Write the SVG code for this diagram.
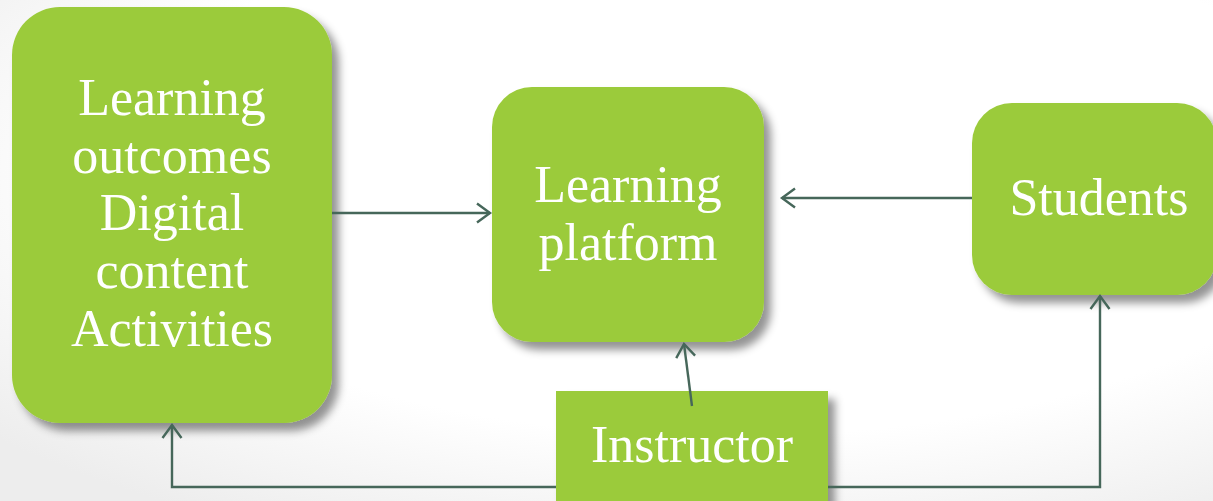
<svg xmlns="http://www.w3.org/2000/svg" width="1213" height="501" viewBox="0 0 1213 501">
  <style>
    .box { fill: #9bcb3a; filter: url(#shadow); }
    .label { fill: #ffffff; font-family: "Liberation Serif", "DejaVu Serif", serif; font-size: 52px; text-anchor: middle; }
    .link { fill: none; stroke: #46675a; stroke-width: 2.4; marker-end: url(#arrow); }
  </style>
  <defs>
    <radialGradient id="bg" cx="0.6" cy="0.35" r="0.8">
      <stop offset="0.65" stop-color="#ffffff"/>
      <stop offset="1" stop-color="#ededed"/>
    </radialGradient>
    <filter id="shadow" x="-10%" y="-10%" width="125%" height="125%">
      <feDropShadow dx="7" dy="8" stdDeviation="4.5" flood-color="#000000" flood-opacity="0.42"/>
    </filter>
    <marker id="arrow" viewBox="-15 -12 18 24" markerWidth="18" markerHeight="24" refX="0" refY="0" orient="auto" markerUnits="userSpaceOnUse">
      <path d="M-13,-9.5 L0,0 L-13,9.5" fill="none" stroke="#46675a" stroke-width="2.4"/>
    </marker>
  </defs>

  <rect width="1213" height="501" fill="url(#bg)"/>

  <g id="node-content">
    <rect class="box" x="12" y="7" width="320" height="416" rx="48"/>
    <text class="label" x="172" y="115">Learning</text>
    <text class="label" x="172" y="173">outcomes</text>
    <text class="label" x="172" y="230">Digital</text>
    <text class="label" x="172" y="288">content</text>
    <text class="label" x="172" y="346">Activities</text>
  </g>

  <g id="node-platform">
    <rect class="box" x="492" y="87" width="272" height="255" rx="40"/>
    <text class="label" x="628" y="202">Learning</text>
    <text class="label" x="628" y="260">platform</text>
  </g>

  <g id="node-students">
    <rect class="box" x="972" y="103" width="245" height="192" rx="40"/>
    <text class="label" x="1099" y="215">Students</text>
  </g>

  <g id="node-instructor">
    <rect class="box" x="556" y="391" width="272" height="130"/>
    <text class="label" x="692" y="462">Instructor</text>
  </g>

  <g id="connectors">
    <line class="link" x1="332" y1="213" x2="490" y2="213"/>
    <line class="link" x1="972" y1="198" x2="782" y2="198"/>
    <line class="link" x1="692" y1="406" x2="684" y2="344"/>
    <polyline class="link" points="556,487 172,487 172,425"/>
    <polyline class="link" points="828,487 1100,487 1100,296"/>
  </g>
</svg>
